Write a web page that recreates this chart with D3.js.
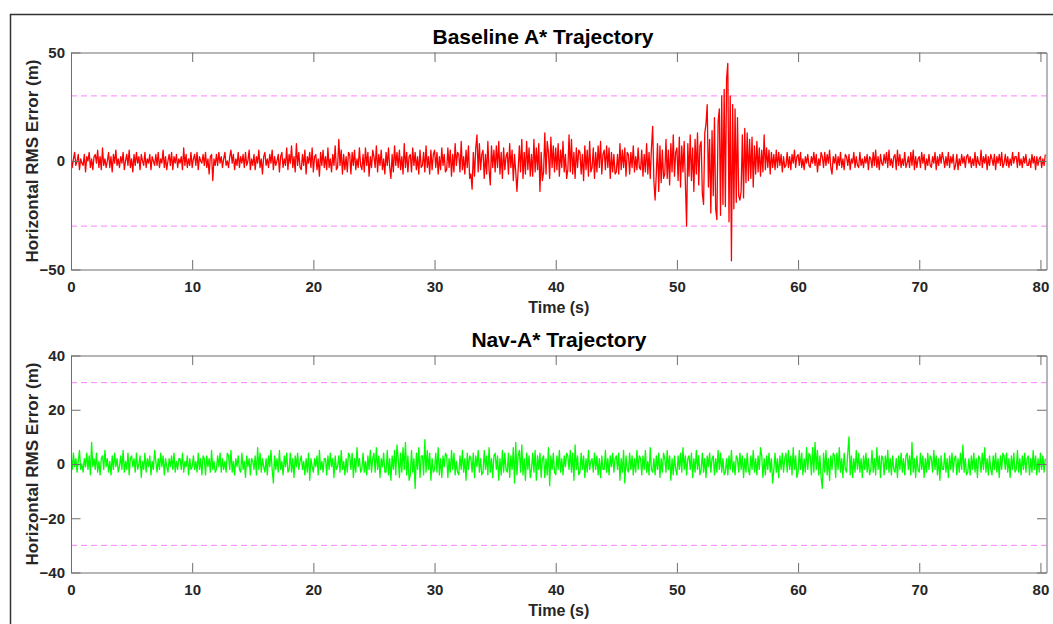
<!DOCTYPE html>
<html>
<head>
<meta charset="utf-8">
<script src="https://cdn.jsdelivr.net/npm/d3@7"></script>
<style>
  body { margin: 0; background: #fff; }
  text { font-family: "Liberation Sans", Arial, sans-serif; font-weight: bold; }
</style>
</head>
<body>
<svg id="figure" width="1053" height="624"></svg>
<script>
const width = 1053;
const height = 624;
const svg = d3.select("#figure");

// sampling step of both error traces (s)
const sampleStep = 0.1;
const xTicks = [0, 10, 20, 30, 40, 50, 60, 70, 80];
const thresholds = [30, -30];

// Baseline A* horizontal error (m), 10 samples per second
const baselineError = [
  2,-3,1,4,-2,0,3,-4,1,-1,
  -2,3,-5,2,0,4,-3,1,-4,2,
  3,-1,5,-3,2,-4,6,-2,1,-3,
  0,4,-3,2,-5,3,-1,5,-2,1,
  -3,2,-1,4,-4,0,3,-2,5,-3,
  1,-5,3,-2,4,-1,2,-4,3,0,
  -2,4,-3,1,-1,3,-4,2,0,-2,
  3,-2,4,-3,1,-1,5,-3,2,-4,
  0,3,-2,4,-4,2,-1,3,-3,1,
  -1,2,-4,6,-2,3,-3,1,-2,4,
  -3,1,3,-2,4,-4,2,0,-1,3,
  -2,4,-3,1,-6,2,3,-9,1,-2,
  3,-2,4,-1,2,-3,1,4,-2,0,
  -3,2,5,-1,3,-4,1,-2,4,-3,
  2,-1,3,-3,4,-2,0,5,-4,1,
  -2,3,-4,2,-1,5,-3,1,-6,2,
  4,-2,1,-3,3,-1,5,-4,2,-2,
  0,3,-5,2,4,-3,1,-2,6,-4,
  3,-1,7,-3,2,-5,8,-2,4,-3,
  -4,3,-2,5,-6,2,-1,4,-3,6,
  -5,2,3,-4,1,-7,4,-2,5,-3,
  2,-4,6,-3,1,-5,3,-2,7,-4,
  -3,10,-2,5,-6,3,-4,2,-5,4,
  3,-6,4,-2,5,-4,1,-3,6,-2,
  -4,3,-5,6,-2,4,-7,2,-3,5,
  2,-3,7,-5,3,-2,5,-4,1,-6,
  4,-2,6,-3,-8,3,-5,7,-2,4,
  -3,5,-4,2,-6,8,-3,4,-5,2,
  3,-5,6,-2,4,-4,2,-6,5,-3,
  -2,4,-5,7,-3,2,-6,5,-4,3,
  5,-3,4,-6,2,-4,6,-2,3,-5,
  -4,6,-3,5,-7,3,-5,8,-2,4,
  3,-5,9,-4,2,-6,5,-3,7,-8,
  -6,-13,4,-7,6,12,-5,8,-4,3,
  5,-8,3,-6,9,-4,-11,7,-3,5,
  -5,7,-3,9,-6,4,-8,6,-4,2,
  4,-6,8,-3,5,-9,3,-5,-14,-4,
  7,-5,10,-8,4,-6,9,-4,6,-7,
  3,-7,10,-5,6,-4,8,-14,4,-9,
  -5,13,-6,9,4,-8,11,-3,7,-5,
  6,-4,8,-7,5,-3,9,-5,3,-8,
  -4,12,-5,10,-6,4,-8,6,-3,5,
  4,-6,3,-9,7,-4,5,-7,9,-5,
  -3,6,-8,4,-5,7,-3,9,-6,3,
  5,-4,7,-3,6,-8,4,-5,3,-6,
  -5,3,-6,8,-4,5,-3,6,-7,4,
  3,-6,4,-3,7,-5,2,-4,6,-3,
  -4,5,-7,3,-5,8,-6,4,-8,6,
  16,-9,-18,-6,8,-14,7,-10,5,-8,
  -6,10,-8,5,-11,8,-5,12,-7,4,
  6,-9,11,-12,7,-5,9,-10,-30,8,
  -7,12,-9,6,-14,10,-6,13,-11,7,
  9,-15,-20,13,17,26,-12,10,-24,14,
  -16,20,-22,-27,18,24,-25,30,-20,33,
  -21,38,45,-28,30,-46,26,-22,24,-19,
  20,-16,-18,-14,12,-17,15,-10,13,-9,
  10,-8,11,-12,7,-6,9,-5,6,-7,
  5,-5,12,-4,6,-3,5,-6,4,-3,
  3,-4,5,-3,4,-2,3,-5,2,-3,
  -2,4,-3,2,-4,3,-1,5,-3,2,
  3,-2,4,-3,1,-4,2,-1,3,-2,
  -3,2,-1,4,-2,3,-5,1,-2,4,
  2,-3,4,-2,3,-1,5,-3,-6,2,
  -1,3,-4,2,-2,4,-3,1,-4,3,
  2,-2,3,-4,1,-1,4,-3,2,-2,
  -3,4,-2,1,-3,2,-1,3,-4,2,
  1,-3,4,-2,5,-3,2,-4,3,-1,
  -2,3,-1,4,-3,5,-2,1,-3,2,
  3,-4,5,-2,3,-3,1,-2,4,-3,
  -1,2,-3,4,-2,5,-4,2,-3,1,
  2,-3,4,-1,3,-4,1,-2,3,-2,
  -3,2,-1,4,-4,2,-2,3,-1,4,
  1,-3,2,-2,4,-3,2,-1,3,-4,
  -2,3,-4,1,-2,3,-1,2,-3,2,
  3,-1,2,-3,1,-2,4,-3,2,-1,
  -2,5,-3,2,-1,3,-4,2,-2,3,
  1,-2,3,-4,2,-1,3,-2,4,-3,
  -1,3,-2,2,-3,1,-2,4,-1,2,
  2,-3,4,-2,1,-3,2,-1,3,-2,
  -2,1,-3,3,-1,2,-4,2,-2,1,
  2,-3,1,-2,3
];

// Nav-A* horizontal error (m), 10 samples per second
const navError = [
  3,-2,4,-1,2,-3,1,5,-2,0,
  -3,2,-1,4,-2,3,-4,8,-1,2,
  -2,4,-3,1,-4,2,3,-2,5,-1,
  2,-3,1,-4,3,-2,4,-1,2,-3,
  -1,3,-2,5,-3,1,-2,4,-4,2,
  3,-1,2,-3,4,-2,0,3,-5,1,
  -2,4,-3,2,-1,3,-4,1,-2,5,
  1,-3,2,-2,4,-1,3,-4,2,-1,
  -3,2,-1,3,-2,4,-3,1,-2,2,
  2,-2,4,-3,1,-1,3,-4,2,-2,
  -1,3,-2,1,-3,4,-2,2,-4,3,
  2,-4,3,-1,2,-3,5,-2,1,-3,
  -2,3,-1,4,-3,2,-2,1,-3,4,
  3,-2,5,-3,1,-4,2,-1,3,-2,
  -3,4,-2,1,-5,3,-1,2,-4,2,
  1,-2,3,-4,6,-2,4,-3,2,-1,
  -3,2,-4,3,-1,5,-2,-7,3,-2,
  2,-3,5,-2,1,-4,3,-1,4,-3,
  -2,4,-3,2,-5,3,-1,4,-2,1,
  3,-2,1,-4,2,-3,4,-6,2,-1,
  -3,2,-1,3,-4,5,-2,1,-3,2,
  2,-4,3,-2,4,-1,2,-5,3,-2,
  -1,3,-3,5,-2,1,-4,2,-3,4,
  3,-2,4,-5,2,-3,6,-1,2,-3,
  -2,4,-3,1,-4,3,-2,5,-3,2,
  4,-3,6,-2,3,-5,2,-1,4,-3,
  -3,5,-4,2,-6,3,-2,5,-4,7,
  2,-5,4,-3,6,-2,8,-4,3,-6,
  -4,5,-3,2,-9,4,-2,6,-5,3,
  3,-4,9,-3,5,-2,4,-6,2,-3,
  -2,4,-3,6,-4,2,-5,3,-1,4,
  3,-5,2,-3,5,-2,4,-4,1,-3,
  -4,3,-2,5,-3,2,-6,4,-2,3,
  2,-3,4,-5,3,-1,5,-3,2,-4,
  -3,5,-2,3,-4,6,-3,2,-5,3,
  4,-2,3,-6,2,-4,5,-3,4,-2,
  -3,4,-5,3,-2,6,-7,8,-4,3,
  5,-3,7,-4,2,-6,4,-2,3,-5,
  -2,4,-3,5,-6,3,-2,4,-5,2,
  3,-5,2,-4,6,-8,3,-2,4,-3,
  -4,3,-2,5,-3,2,-4,3,-1,4,
  3,-2,5,-3,4,-6,7,-2,3,-4,
  -3,4,-2,3,-5,2,-3,5,-2,1,
  2,-3,4,-2,3,-4,2,-5,3,-2,
  -2,5,-3,2,-4,3,-1,4,-3,2,
  3,-2,4,-6,2,-3,5,-7,3,-2,
  -3,4,-2,3,-4,2,-3,5,-2,3,
  2,-4,3,-2,5,-3,1,-4,6,-2,
  -3,2,-4,3,-2,4,-5,2,-3,4,
  2,-3,5,-2,3,-6,2,-4,3,-2,
  -4,3,-2,4,-3,6,-2,3,-4,2,
  3,-2,4,-5,2,-3,5,-2,3,-4,
  -2,4,-3,2,-5,3,-1,4,-3,2,
  3,-4,2,-3,5,-2,4,-3,2,-4,
  -3,2,-4,3,-2,5,-3,1,-4,3,
  2,-3,4,-2,3,-5,2,-3,4,-2,
  -4,3,-2,5,-3,2,-4,3,-2,6,
  3,-5,2,-4,3,-2,4,-3,2,-7,
  -2,4,-3,2,-5,3,-2,4,-3,2,
  4,-3,5,-2,3,-4,6,-2,3,-5,
  -3,5,-2,4,-4,2,-3,6,-2,4,
  3,-4,6,-3,8,-2,5,-4,3,-5,
  -9,4,-3,5,-4,2,-6,3,-2,4,
  3,-5,4,-2,6,-3,2,-5,4,-2,
  -3,4,10,-4,3,-5,2,-3,5,-2,
  4,-3,2,-5,3,-2,4,-3,2,-4,
  -2,5,-3,2,-4,6,-2,3,-5,3,
  2,-4,3,-2,5,-3,2,-4,3,-2,
  -3,2,-5,3,-2,4,-3,2,-4,3,
  4,-2,3,-4,8,-3,2,-5,3,-2,
  -3,4,-2,3,-5,2,-3,4,-2,3,
  2,-3,5,-2,3,-4,2,-6,3,-2,
  -2,4,-3,2,-5,3,-2,4,-3,2,
  3,-4,2,-3,4,-2,7,-3,2,-4,
  -3,2,-4,3,-2,4,-3,2,-5,3,
  2,-3,4,-2,6,-3,2,-4,3,-2,
  -4,3,-2,4,-3,2,-5,3,-2,4,
  3,-2,4,-3,2,-5,3,-2,4,-3,
  -2,5,-3,2,-4,3,-2,4,-3,2,
  3,-4,2,-3,5,-2,3,-4,2,-3,
  4,-2,3,-3,2
];

const panels = [
  { title: "Baseline A* Trajectory", titleX: 543, values: baselineError, color: "#ff0000",
    yDomain: [-50, 50], yTicks: [-50, 0, 50], top: 52.5, bottom: 269.5 },
  { title: "Nav-A* Trajectory", titleX: 559, values: navError, color: "#00ff00",
    yDomain: [-40, 40], yTicks: [-40, -20, 0, 20, 40], top: 355.5, bottom: 572.5 }
];

const left = 71;
const right = 1046.5;
const tickLen = 9.5;
const axisColor = "#6e6e6e";
const textColor = "#262626";

const x = d3.scaleLinear().domain([0, 80.5]).range([left, right]);

// figure window edge
svg.append("path")
  .attr("d", "M10.5," + height + "V14.5H" + width)
  .attr("fill", "none")
  .attr("stroke", "#333")
  .attr("stroke-width", 1.5);

panels.forEach((p, k) => {
  const y = d3.scaleLinear().domain(p.yDomain).range([p.bottom, p.top]);
  const g = svg.append("g");

  g.append("clipPath").attr("id", "clip" + k)
    .append("rect")
    .attr("x", left).attr("y", p.top)
    .attr("width", right - left).attr("height", p.bottom - p.top);

  // threshold lines
  g.selectAll(".thr")
    .data(thresholds)
    .enter()
    .append("line")
    .attr("x1", x(0)).attr("x2", x(80.5))
    .attr("y1", d => y(d)).attr("y2", d => y(d))
    .attr("stroke", "#ff80ff")
    .attr("stroke-width", 1)
    .attr("stroke-dasharray", "6,4");

  const line = d3.line()
    .x((d, i) => x(i * sampleStep))
    .y(d => y(d));

  g.append("path")
    .datum(p.values)
    .attr("clip-path", "url(#clip" + k + ")")
    .attr("d", line)
    .attr("fill", "none")
    .attr("stroke", p.color)
    .attr("stroke-width", 1.3)
    .attr("stroke-linejoin", "round");

  // axes: ticks inward on every side, box on
  const xb = d3.axisBottom(x).tickValues(xTicks).tickSizeInner(-tickLen).tickSizeOuter(0).tickPadding(12);
  const xt = d3.axisTop(x).tickValues(xTicks).tickSizeInner(-tickLen).tickSizeOuter(0).tickFormat("");
  const yl = d3.axisLeft(y).tickValues(p.yTicks).tickSizeInner(-tickLen).tickSizeOuter(0).tickPadding(6);
  const yr = d3.axisRight(y).tickValues(p.yTicks).tickSizeInner(-tickLen).tickSizeOuter(0).tickFormat("");

  const axes = [
    [xb, "translate(0," + p.bottom + ")"],
    [xt, "translate(0," + p.top + ")"],
    [yl, "translate(" + left + ",0)"],
    [yr, "translate(" + right + ",0)"]
  ];
  axes.forEach(a => {
    const ag = g.append("g").attr("transform", a[1]).call(a[0]);
    ag.select(".domain").attr("stroke", axisColor);
    ag.selectAll(".tick line").attr("stroke", axisColor);
    ag.selectAll(".tick text")
      .attr("fill", textColor)
      .style("font-size", "15px");
  });

  g.append("text")
    .attr("x", p.titleX)
    .attr("y", p.top - 9)
    .attr("text-anchor", "middle")
    .style("font-size", "21px")
    .attr("fill", "#000")
    .text(p.title);

  g.append("text")
    .attr("x", (left + right) / 2)
    .attr("y", p.bottom + 43)
    .attr("text-anchor", "middle")
    .style("font-size", "16px")
    .attr("fill", textColor)
    .text("Time (s)");

  g.append("text")
    .attr("transform", "translate(38," + (p.top + p.bottom) / 2 + ") rotate(-90)")
    .attr("text-anchor", "middle")
    .style("font-size", "17px")
    .attr("fill", textColor)
    .text("Horizontal RMS Error (m)");
});
</script>
</body>
</html>
